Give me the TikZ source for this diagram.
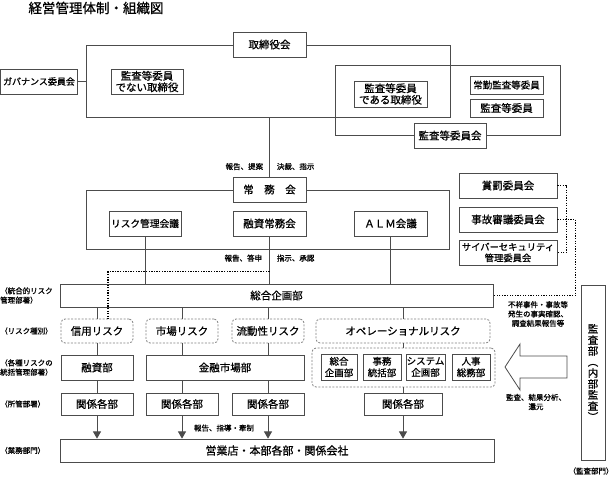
\documentclass[tikz,border=0pt]{standalone}
\usepackage{fontspec}
\setmainfont{Noto Sans CJK JP}[FakeBold = 0.8]
\usepackage{tikz}
\usetikzlibrary{calc}
\usetikzlibrary{arrows}
\definecolor{linegray}{gray}{0.3}

\begin{document}
\begin{tikzpicture}[x = 1pt, y = -1pt]
	\tikzstyle{every node}=[font = \fontsize{10.5}{11.5}\selectfont]
	\tikzset{box/.style = {draw = linegray, line width = 0.8pt, fill = white, inner sep = 1pt, align = center, minimum width = 73pt, minimum height = 25pt}}
	\tikzset{riskbox/.style = {box, draw = gray, dash pattern = on 2pt off 1.5pt, rounded corners = 4pt, minimum height = 24pt}}
	\tikzset{unitbox/.style = {box, inner sep = 0.5pt, minimum height = 26pt, font = \fontsize{9.5}{11.5}\selectfont}}
	\tikzset{frame/.style = {draw = linegray, line width = 0.8pt, inner sep = 0pt}}
	\tikzset{small/.style = {inner sep = 0pt, font = \fontsize{7.5}{9.3}\selectfont}}
	\tikzset{sidelabel/.style = {small, anchor = west, align = left}}
	\tikzset{link/.style = {draw = linegray, line width = 0.8pt}}
	\tikzset{dotline/.style = {draw = black, line width = 1.3pt, dash pattern = on 1.3pt off 1.3pt}}

\useasboundingbox (0,0) rectangle (612,477);

%% Title
\draw (96,8) node[name = title, font = \fontsize{13.5}{13.5}\selectfont]{経営管理体制・組織図};

%% Board of directors
\draw (268,81) node[name = boardframe, frame, minimum width = 364pt, minimum height = 72pt]{};
\draw (447.5,100) node[name = auditframe, frame, minimum width = 225pt, minimum height = 70pt]{};

\draw (269.5,44.5) node[name = torishimari, box]{取締役会};
\draw (39,81.5) node[name = gov, box, minimum width = 77pt, font = \fontsize{9}{10}\selectfont]{ガバナンス委員会};
\draw (147,81.5) node[name = nondir, box, minimum width = 72pt]{監査等委員\\でない取締役};
\draw (390.5,94) node[name = auditdir, box, minimum height = 26pt]{監査等委員\\である取締役};
\draw (506.5,85) node[name = jokin, box, minimum height = 18pt, font = \fontsize{9.5}{10}\selectfont]{常勤監査等委員};
\draw (506.5,108) node[name = kansaiin, box, minimum height = 18pt]{監査等委員};
\draw (450,135.5) node[name = kansakai, box, minimum width = 72pt]{監査等委員会};

\draw[link] (gov.east) -- (gov.east -| boardframe.west);

%% Management committee
\draw (267.5,219.5) node[name = jomuframe, frame, minimum width = 363pt, minimum height = 59pt]{};
\draw (269.5,189.5) node[name = jomu, box]{常　務　会};
\draw (145,223.5) node[name = risk, box, minimum width = 72pt, font = \fontsize{9.7}{10}\selectfont]{リスク管理会議};
\draw (269.5,223.5) node[name = yushijomu, box]{融資常務会};
\draw (390.5,223.5) node[name = alm, box]{ＡＬＭ会議};

\draw[link] (jomu.north |- boardframe.south) -- node[pos = 0.83, left = 6pt, small, name = teian]{報告、提案} node[pos = 0.83, right = 7pt, small, name = kessai]{決裁、指示} (jomu.north);

%% Other committees
\draw (508,185.5) node[name = shobatsu, box, minimum width = 98pt]{賞罰委員会};
\draw (508,219.5) node[name = jiko, box, minimum width = 98pt]{事故審議委員会};
\draw (508,252.5) node[name = cyber, box, minimum width = 98pt, font = \fontsize{9.3}{11}\selectfont]{サイバーセキュリティ\\管理委員会};

%% Integrated risk management
\draw (276.5,295.5) node[name = sogo, box, minimum width = 433pt, minimum height = 23pt]{総合企画部};

\draw[link] (risk.south) -- (risk.south |- sogo.north);
\draw[link] (yushijomu.south) -- node[pos = 0.46, left = 7pt, small, name = toshin]{報告、答申} node[pos = 0.46, right = 7pt, small, name = shonin]{指示、承認} (yushijomu.south |- sogo.north);
\draw[link] (alm.south) -- (alm.south |- sogo.north);

%% Risk categories
\draw (97,331) node[name = shinyo, riskbox, minimum width = 72pt]{信用リスク};
\draw (182,331) node[name = shijo, riskbox, minimum width = 72pt]{市場リスク};
\draw (268,331) node[name = ryudo, riskbox, minimum width = 72pt]{流動性リスク};
\draw (403,331) node[name = opr, riskbox, minimum width = 174pt]{オペレーショナルリスク};

\foreach \r in {shinyo, shijo, ryudo, opr}
	\draw[link] (\r.north |- sogo.south) -- (\r.north);

\coordinate (branch) at ($(yushijomu.south)!0.75!(yushijomu.south |- sogo.north)$);
\draw[dotline] (branch) -| ([xshift = 11pt]shinyo.north);

%% Risk management departments
\draw (97,367.5) node[name = yushi, box, minimum width = 72pt]{融資部};
\draw (225,367.5) node[name = kinyu, box, minimum width = 158pt]{金融市場部};
\draw (403.5,367.5) node[name = opgrp, riskbox, fill = none, minimum width = 183pt, minimum height = 39pt]{};
\draw (339,367) node[name = sogo2, unitbox, minimum width = 36pt]{総合\\企画部};
\draw (382,367) node[name = jimu, unitbox, minimum width = 38pt]{事務\\統括部};
\draw (425.5,367) node[name = system, unitbox, minimum width = 39pt]{システム\\企画部};
\draw (471,367) node[name = jinji, unitbox, minimum width = 38pt]{人事\\総務部};

\draw[link] (shinyo.south) -- (yushi.north);
\draw[link] (shijo.south) -- (shijo.south |- kinyu.north);
\draw[link] (ryudo.south) -- (ryudo.south |- kinyu.north);
\draw[link] (opr.south) -- (opr.south |- opgrp.north);

%% Departments in charge
\draw (97,404) node[name = kankei1, box, minimum width = 72pt, minimum height = 22pt]{関係各部};
\draw (182,404) node[name = kankei2, box, minimum width = 72pt, minimum height = 22pt]{関係各部};
\draw (268,404) node[name = kankei3, box, minimum width = 72pt, minimum height = 22pt]{関係各部};
\draw (403,404) node[name = kankei4, box, minimum width = 78pt, minimum height = 22pt]{関係各部};

\draw[link] (yushi.south) -- (kankei1.north);
\draw[link] (kankei2.north |- kinyu.south) -- (kankei2.north);
\draw[link] (kankei3.north |- kinyu.south) -- (kankei3.north);
\draw[link] (kankei4.north |- opgrp.south) -- (kankei4.north);

%% Business units
\draw (277,450.5) node[name = eigyo, box, minimum width = 434pt, minimum height = 23pt, font = \fontsize{11}{12}\selectfont]{営業店・本部各部・関係会社};

\foreach \k in {kankei1, kankei2, kankei3, kankei4}
	\draw[link, line width = 1pt, -triangle 60] (\k.south) -- (\k.south |- eigyo.north);
\draw (224,428) node[name = shido, small]{報告、指導・牽制};

%% Side labels
\draw (0,295.5) node[sidelabel, name = lab1]{（統合的リスク\\管理部署）};
\draw (0,331) node[sidelabel, name = lab2]{（リスク種別）};
\draw (0,367.5) node[sidelabel, name = lab3]{（各種リスクの\\統括管理部署）};
\draw (0,404) node[sidelabel, name = lab4]{（所管部署）};
\draw (0,450.5) node[sidelabel, name = lab5]{（業務部門）};

%% Audit department
\draw (593,372.5) node[name = kansabu, box, minimum width = 24pt, minimum height = 175pt, font = \fontsize{10.5}{11}\selectfont]{監\\査\\部\\︵\\内\\部\\監\\査\\︶};
\draw (591,471) node[name = kansabumon, small]{（監査部門）};

\draw[link, fill = white] (567,356) -- (520,356) -- (520,344) -- (505,367) -- (520,390) -- (520,378) -- (567,378) -- cycle;
\draw (538,314) node[name = fusho, small, align = center]{不祥事件・事故等\\発生の事実確認、\\調査結果報告等};
\draw (536,402) node[name = kansakekka, small, align = center]{監査、結果分析、\\還元};

%% Dotted links
\draw[dotline] (shobatsu.east) -- ++(9,0) |- (cyber.east);
\draw[dotline] (jiko.east) -- ++(18,0) |- (sogo.east);

\end{tikzpicture}
\end{document}
